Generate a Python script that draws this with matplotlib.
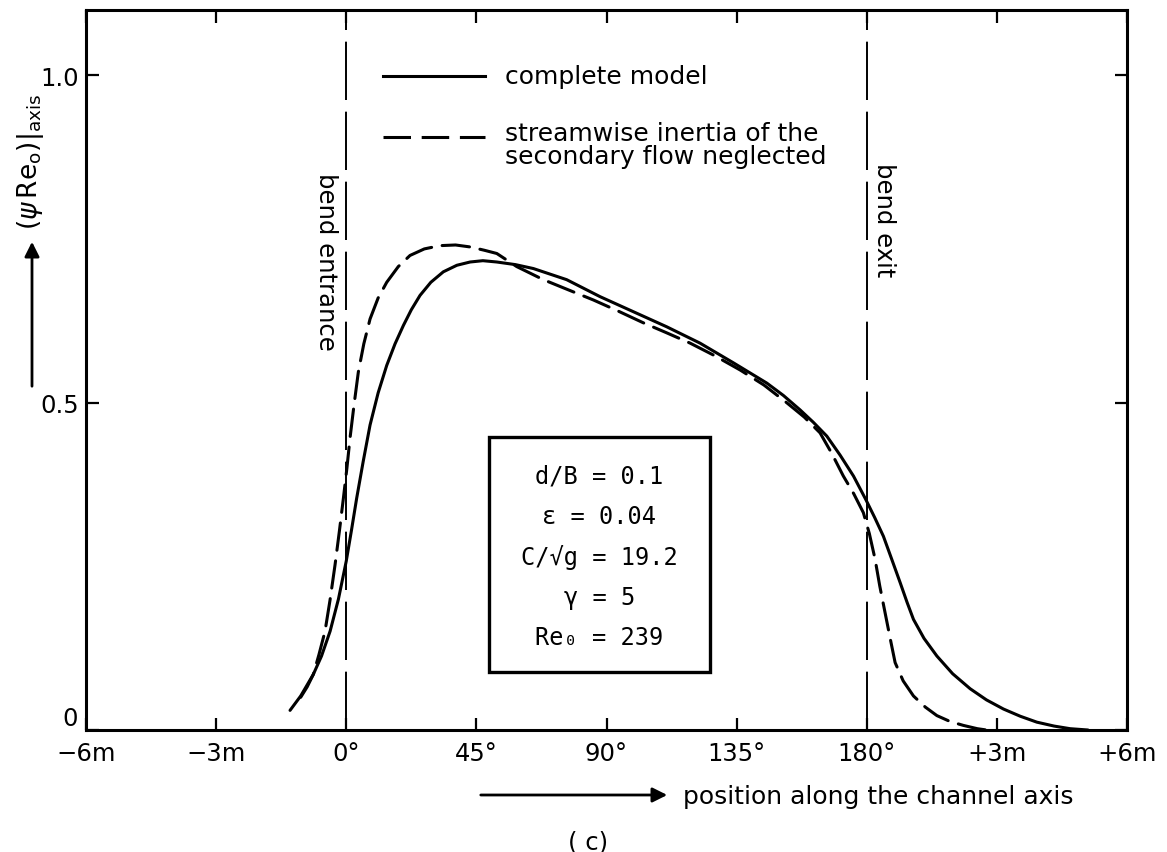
import matplotlib
matplotlib.use("Agg")
import matplotlib.pyplot as plt
from matplotlib.patches import Rectangle, FancyArrowPatch
from matplotlib.lines import Line2D

plt.rcParams['font.family'] = ['DejaVu Sans']
plt.rcParams['mathtext.fontset'] = 'dejavusans'

# ---- data (x in tick-index units: 0 = -6m ... 2 = 0deg ... 6 = 180deg ... 8 = +6m)
tick_labels = ['\u22126m', '\u22123m', '0\u00b0', '45\u00b0', '90\u00b0', '135\u00b0', '180\u00b0', '+3m', '+6m']
tick_pos = [0, 1, 2, 3, 4, 5, 6, 7, 8]
ytick_pos = [0, 0.5, 1.0]
ytick_labels = ['0', '0.5', '1.0']
bend_entrance = 2
bend_exit = 6

complete_x = [1.568, 1.65, 1.747, 1.81, 1.876, 1.94, 2.0, 2.04, 2.08, 2.13, 2.183, 2.245,
              2.311, 2.375, 2.439, 2.50, 2.567, 2.65, 2.746, 2.85, 2.952, 3.05, 3.157, 3.30,
              3.438, 3.694, 3.951, 4.207, 4.463, 4.719, 4.975, 5.232, 5.36, 5.488, 5.59,
              5.693, 5.795, 5.898, 5.993, 6.06, 6.128, 6.19, 6.257, 6.31, 6.359, 6.44, 6.539,
              6.66, 6.795, 6.92, 7.051, 7.18, 7.307, 7.44, 7.563, 7.70]
complete_y = [0.030, 0.052, 0.085, 0.113, 0.151, 0.200, 0.258, 0.305, 0.354, 0.410, 0.466, 0.515,
              0.557, 0.590, 0.618, 0.642, 0.664, 0.684, 0.700, 0.710, 0.715, 0.717, 0.715, 0.711,
              0.705, 0.688, 0.662, 0.639, 0.616, 0.591, 0.561, 0.530, 0.511, 0.489, 0.470,
              0.449, 0.420, 0.388, 0.352, 0.325, 0.296, 0.262, 0.225, 0.195, 0.169, 0.140, 0.113,
              0.086, 0.063, 0.046, 0.032, 0.021, 0.012, 0.006, 0.002, 0.0]

neglected_x = [1.65, 1.70, 1.747, 1.79, 1.837, 1.875, 1.914, 1.948, 1.978, 2.005, 2.029, 2.06,
               2.093, 2.135, 2.183, 2.245, 2.311, 2.40, 2.49, 2.60, 2.721, 2.84, 2.952, 3.06,
               3.157, 3.31, 3.515, 3.70, 3.899, 4.09, 4.284, 4.46, 4.643, 4.83, 5.027, 5.21,
               5.385, 5.52, 5.641, 5.73, 5.82, 5.90, 5.974, 6.02, 6.064, 6.10, 6.141, 6.18,
               6.218, 6.28, 6.359, 6.45, 6.539, 6.64, 6.743, 6.85, 6.92]
neglected_y = [0.050, 0.066, 0.085, 0.115, 0.151, 0.198, 0.2525, 0.305, 0.354, 0.400, 0.446, 0.497,
               0.547, 0.590, 0.628, 0.660, 0.684, 0.708, 0.725, 0.735, 0.740, 0.741, 0.738, 0.733,
               0.728, 0.708, 0.688, 0.673, 0.657, 0.640, 0.622, 0.607, 0.591, 0.572, 0.550, 0.527,
               0.500, 0.478, 0.454, 0.423, 0.388, 0.361, 0.332, 0.300, 0.261, 0.220, 0.179, 0.140,
               0.103, 0.075, 0.052, 0.035, 0.022, 0.013, 0.007, 0.002, 0.0]

legend_labels = ['complete model', 'streamwise inertia of the\nsecondary flow neglected']
param_lines = ['d/B = 0.1', '\u03b5 = 0.04', 'C/\u221ag = 19.2', '\u03b3 = 5', 'Re\u2080 = 239']

# ---- figure
W, H = 1167, 853
fig = plt.figure(figsize=(W / 100, H / 100), dpi=100)
ax = fig.add_axes([86 / W, (H - 731) / H, 1041 / W, 720 / H])
ax.set_xlim(0, 8)
ax.set_ylim(0, 1.1)

lw = 2.2
dash = (9, 3.5)
ax.plot(complete_x, complete_y, color='black', lw=lw, solid_capstyle='round', solid_joinstyle='round')
ax.plot(neglected_x, neglected_y, color='black', lw=lw, dashes=dash, dash_capstyle='round')

for xv in (bend_entrance, bend_exit):
    ax.axvline(xv, color='black', lw=1.4, dashes=(30, 6))

ax.set_xticks(tick_pos)
ax.set_xticklabels(tick_labels, fontsize=17.5)
ax.set_yticks(ytick_pos)
# the "0" label sits a little above the axis line in the original; drawn separately below
ax.set_yticklabels([''] + ytick_labels[1:], fontsize=17.5)
ax.tick_params(direction='in', length=9, width=1.6, top=True, right=True, pad=8)
ax.tick_params(axis='y', pad=5)
for s in ax.spines.values():
    s.set_linewidth(2.2)
ax.text(-0.008, 0.016, ytick_labels[0], transform=ax.transAxes, fontsize=17.5, ha='right', va='center')

# legend drawn manually
ax.add_line(Line2D([0.285, 0.383], [0.908, 0.908], transform=ax.transAxes, color='black', lw=lw))
ax.text(0.4025, 0.908, legend_labels[0], transform=ax.transAxes, fontsize=18, va='center', ha='left')
ax.add_line(Line2D([0.285, 0.383], [0.824, 0.824], transform=ax.transAxes, color='black', lw=lw,
                   dashes=dash))
ax.text(0.4025, 0.846, legend_labels[1], transform=ax.transAxes, fontsize=18, va='top', ha='left',
        linespacing=0.95)

# bend labels
ax.text((326 - 86) / 1041, (731 - 173) / 720, 'bend entrance', transform=ax.transAxes, rotation=270,
        fontsize=17.5, ha='center', va='top')
ax.text((884 - 86) / 1041, (731 - 163) / 720, 'bend exit', transform=ax.transAxes, rotation=270,
        fontsize=17.5, ha='center', va='top')

# parameter box
bx0, bx1 = (489 - 86) / 1041, (710 - 86) / 1041
by0, by1 = (731 - 673) / 720, (731 - 438) / 720
ax.add_patch(Rectangle((bx0, by0), bx1 - bx0, by1 - by0, transform=ax.transAxes, fill=False,
                       lw=2.4, edgecolor='black'))
line_y = [477, 517, 557, 598, 638]
for txt, yy in zip(param_lines, line_y):
    ax.text((bx0 + bx1) / 2, (731 - yy) / 720, txt, transform=ax.transAxes, fontsize=17,
            family=['DejaVu Sans Mono', 'DejaVu Sans'], ha='center', va='center')

# y label with arrow
fig.text(30 / W, 1 - 162 / H, r'$(\psi\,\mathrm{Re_o})|_{\mathrm{axis}}$', rotation=90,
         fontsize=19, ha='center', va='center')
fig.add_artist(FancyArrowPatch((32 / W, 1 - 390 / H), (32 / W, 1 - 240 / H),
               transform=fig.transFigure, arrowstyle='-|>', mutation_scale=22, lw=2, color='black'))

# x label with arrow
fig.add_artist(FancyArrowPatch((478 / W, 1 - 796 / H), (670 / W, 1 - 796 / H),
               transform=fig.transFigure, arrowstyle='-|>', mutation_scale=22, lw=2, color='black'))
fig.text(683 / W, 1 - 797 / H, 'position along the channel axis', fontsize=18, ha='left', va='center')
fig.text(588 / W, 1 - 843 / H, '( c)', fontsize=17.5, ha='center', va='center')

fig.savefig('out.png', dpi=100)
